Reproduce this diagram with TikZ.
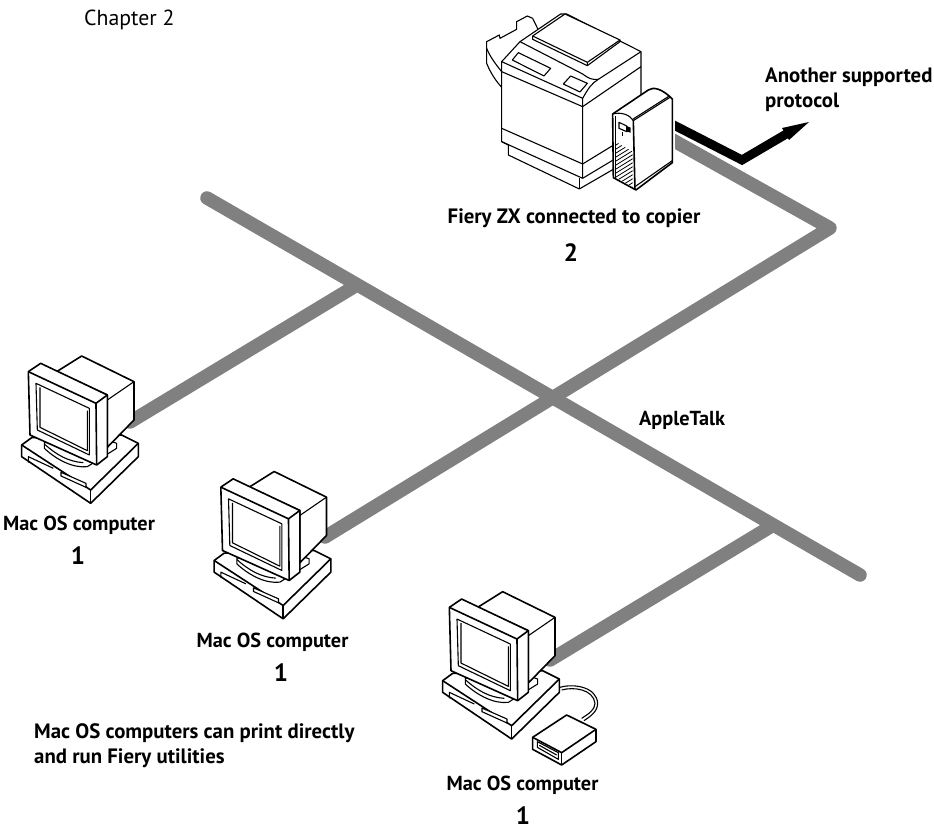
\documentclass[tikz,border=0pt]{standalone}
\usepackage{fontspec}
\setmainfont{PT Sans}
\usetikzlibrary{calc}
\definecolor{netgray}{HTML}{808080}
\tikzset{
  net/.style={draw=netgray,line width=13.5pt,line cap=round,line join=round},
  lab/.style={font=\fontsize{20.8}{24}\selectfont\bfseries,inner sep=0pt},
  maclab/.style={font=\fontsize{20.3}{24}\selectfont\bfseries,inner sep=0pt},
  num/.style={font=\fontsize{25}{28}\selectfont\bfseries,inner sep=0pt},
  art/.style={draw=black,line width=1.6pt,line join=round,fill=white},
  artt/.style={draw=black,line width=1.1pt,line join=round,fill=white},
}
\newcommand{\macbox}[2]{%
\begin{scope}[shift={(#1,#2)},x=.3333pt,y=-.3333pt]
  % base
  \path[art] (65,315) -- (95,293) -- (365,285) -- (415,310) -- (415,350) -- (272,490) -- (65,350) -- cycle;
  \draw[art,fill=none] (65,315) -- (272,450) -- (415,310);
  \draw[art,fill=none] (272,450) -- (272,490);
  \draw[artt,fill=none] (85,368) -- (85,350) -- (160,385);
  \path[artt] (183,397) -- (258,430) -- (258,442) -- (183,408) -- cycle;
  % stand
  \path[artt] (133,308) -- (133,325) .. controls (170,360) and (220,385) .. (262,380) -- (350,325) -- (350,310) -- (322,300) -- cycle;
  \draw[artt,fill=none] (133,312) .. controls (170,345) and (205,365) .. (250,368);
  % monitor back
  \path[art] (170,95) -- (245,48) -- (402,125) -- (402,240) -- (322,322) -- (322,165) -- cycle;
  \draw[artt,fill=none] (322,180) -- (402,125);
  % bezel
  \path[art] (85,95) -- (122,70) -- (322,165) -- (322,350) -- (290,375) -- (90,285) -- cycle;
  \draw[art,fill=none] (85,95) -- (288,190) -- (290,375);
  \draw[art,fill=none] (288,190) -- (322,165);
  \path[artt] (108,130) -- (268,205) -- (268,345) -- (112,270) -- cycle;
  \draw[artt,fill=none] (120,142) -- (120,262) -- (262,332) -- (262,212);
\end{scope}}
\begin{document}
\begin{tikzpicture}[x=1pt,y=-1pt]
\useasboundingbox (0,0) rectangle (934,826);
\fill[white] (0,0) rectangle (934,826);
% network junctions
\coordinate (mainA) at (207,198);
\coordinate (mainB) at (860,575);
\coordinate (j1) at (352,288);
\coordinate (j3) at (770,527);
\coordinate (bend) at (830,228);
\coordinate (c1) at (130,422);
\coordinate (c2) at (325,537);
\coordinate (c3) at (550,660);
\coordinate (fieryG) at (660,133);
\coordinate (fieryK) at (660,118);
\coordinate (kink) at (742,160);
\coordinate (arrowEnd) at (788,133);
% gray network
\draw[net] (mainA) -- (mainB);
\draw[net] (j1) -- (c1);
\draw[net] (j3) -- (c3);
\begin{scope}
  \clip (675,0) -- (934,0) -- (934,826) -- (0,826) -- (0,200) -- (675,200) -- cycle;
  \draw[net] (fieryG) -- (bend) -- (c2);
  \draw[draw=black,line width=9pt,line join=miter] (fieryK) -- (kink) -- (arrowEnd);
\end{scope}
\fill[black] (809,122) -- (782,128) -- (789,140) -- cycle;
% computers
\macbox{0}{340}
\macbox{192.5}{455.5}
\macbox{421}{575.7}
% modem
\begin{scope}[shift={(430,590)},x=.3333pt,y=-.3333pt]
  \draw[artt,fill=none] (390,292) .. controls (430,280) and (500,290) .. (503,340) .. controls (503,365) and (480,380) .. (462,392);
  \draw[artt,fill=none] (395,300) .. controls (430,290) and (490,297) .. (495,340) .. controls (495,360) and (475,372) .. (455,385);
  \path[art] (308,442) -- (410,375) -- (498,418) -- (498,455) -- (395,525) -- (308,478) -- cycle;
  \draw[art,fill=none] (308,442) -- (395,488) -- (498,418);
  \draw[art,fill=none] (395,488) -- (395,525);
  \draw[artt,fill=none] (322,455) -- (385,488) -- (385,508) -- (322,472) -- cycle;
  \draw[artt,fill=none] (328,466) -- (380,495);
\end{scope}
% copier
\begin{scope}[shift={(440,0)},x=.3333pt,y=-.3333pt]
  % output trays
  \path[artt] (185,262) .. controls (165,240) and (150,215) .. (140,190) -- (140,125) -- (178,105) -- (180,115) -- (230,88) -- (230,65) -- (262,48) -- (278,55) -- (295,90) -- (185,185) -- cycle;
  \draw[artt,fill=none] (140,145) .. controls (150,170) and (165,190) .. (185,215);
  % body
  \path[artt] (185,185) -- (240,125) -- (362,42) -- (380,42) -- (603,155) -- (603,460) -- (418,567) -- (205,465) -- (205,435) -- (185,425) -- cycle;
  \draw[artt,fill=none] (185,185) -- (428,295) -- (428,535);
  \draw[artt,fill=none] (185,215) -- (428,320);
  \draw[artt,fill=none] (428,295) .. controls (445,265) and (455,250) .. (475,238) -- (603,155);
  \draw[artt,fill=none] (428,320) -- (603,200);
  \draw[artt,fill=none] (240,125) -- (428,222) .. controls (445,235) and (455,240) .. (475,238);
  \draw[artt,fill=none] (185,385) -- (428,492);
  \draw[artt,fill=none] (185,425) -- (428,535);
  \draw[artt,fill=none] (205,435) -- (205,465);
  \draw[artt,fill=none] (428,492) -- (603,385);
  \draw[artt,fill=none] (428,535) -- (603,430);
  \draw[artt,fill=none] (418,535) -- (418,567);
  % platen
  \path[artt] (278,108) -- (375,42) -- (540,120) -- (442,187) -- cycle;
  \draw[artt,fill=none] (278,108) -- (278,118) -- (442,197) -- (442,187);
  \draw[artt,fill=none] (442,197) -- (540,125) -- (540,120);
  % panels
  \path[artt] (235,158) -- (332,205) -- (312,228) -- (217,180) -- cycle;
  \path[artt] (392,228) -- (442,250) -- (420,276) -- (370,252) -- cycle;
  % server
  \path[art] (518,342) -- (625,270) .. controls (640,260) and (665,265) .. (697,297) -- (697,488) -- (588,570) -- (520,533) -- cycle;
  \draw[artt,fill=none] (518,342) .. controls (545,335) and (570,345) .. (580,362) -- (690,292);
  \draw[artt,fill=none] (578,358) -- (688,288);
  \draw[art,fill=none] (580,362) -- (585,570);
  \draw[artt,fill=none] (585,560) -- (697,482);
  \draw[artt,fill=none] (526,348) -- (526,533);
  \path[artt] (537,367) -- (560,378) -- (560,395) -- (537,385) -- cycle;
  \fill[black] (560,378) -- (572,383) -- (572,398) -- (560,395) -- cycle;
  \draw[line width=1pt] (549,395) -- (549,408);
  \begin{scope}
    \clip (526,425) -- (578,455) -- (578,560) -- (526,533) -- cycle;
    \foreach \k in {0,12,...,180}
      \draw[line width=.8pt] (520,{440+\k}) -- (585,{400+\k});
  \end{scope}
\end{scope}
% texts
\node[font=\fontsize{21.8}{24}\selectfont,inner sep=0pt,anchor=west] (chap) at (84,20) {Chapter 2};
\node[lab,anchor=west] (proto1) at (765,77) {Another supported};
\node[lab,anchor=west] (proto2) at (765,102) {protocol};
\node[lab] (fiery) at (574,218) {Fiery ZX connected to copier};
\node[num] (n2) at (571,253) {2};
\node[maclab,anchor=west] (atalk) at (639,420) {AppleTalk};
\node[maclab] (m1) at (79,525) {Mac OS computer};
\node[num] (n1a) at (78,556) {1};
\node[maclab] (m2) at (272.5,642) {Mac OS computer};
\node[num] (n1b) at (281,673) {1};
\node[maclab] (m3) at (522.5,785) {Mac OS computer};
\node[num,anchor=south] (n1c) at (523,825) {1};
\node[lab,anchor=west] (note1) at (34,733) {Mac OS computers can print directly};
\node[lab,anchor=west] (note2) at (34,758) {and run Fiery utilities};
\end{tikzpicture}
\end{document}
